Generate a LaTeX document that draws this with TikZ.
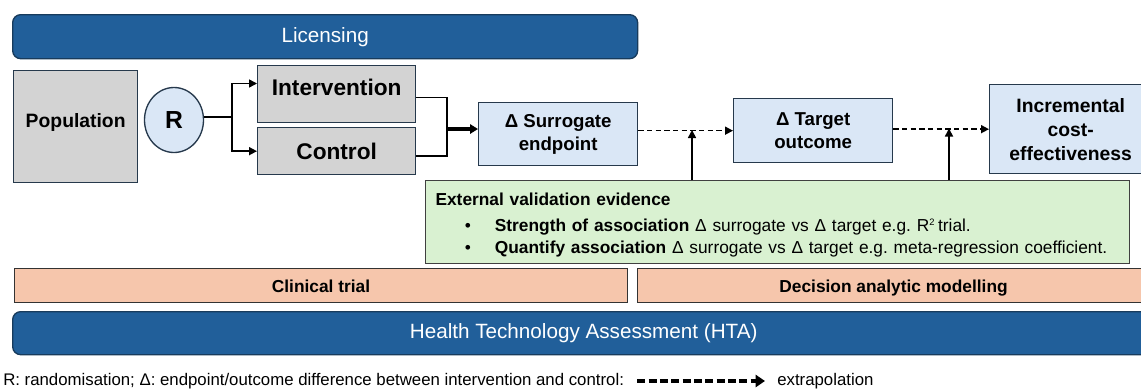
\documentclass[tikz,border=0pt]{standalone}
\usepackage{fontspec}
\setmainfont{Liberation Sans}
\usetikzlibrary{arrows.meta,shapes.geometric}

\definecolor{barblue}{HTML}{215F9A}
\definecolor{barline}{HTML}{183B5C}
\definecolor{boxgrey}{HTML}{D3D3D3}
\definecolor{boxblue}{HTML}{DAE7F6}
\definecolor{boxline}{HTML}{26394C}
\definecolor{evgreen}{HTML}{D9F1D1}
\definecolor{peach}{HTML}{F6C6AC}

\begin{document}
\begin{tikzpicture}[x=0.75pt, y=-0.75pt,
    dims/.style 2 args={minimum width=#1*0.75pt, minimum height=#2*0.75pt},
    bar/.style={draw=barline, fill=barblue, rounded corners=6pt, line width=1pt,
      text=white, inner sep=0pt, anchor=north west, font=\fontsize{15.5}{18}\selectfont},
    greybox/.style={draw=boxline, fill=boxgrey, line width=1pt, inner sep=0pt,
      anchor=north west, font=\bfseries\fontsize{17}{20}\selectfont},
    bluebox/.style={draw=boxline, fill=boxblue, line width=1pt, inner sep=0pt,
      anchor=north west, align=center, font=\bfseries\fontsize{14}{17}\selectfont},
    phase/.style={draw=black!80, fill=peach, line width=0.8pt, inner sep=0pt,
      anchor=north west, text height=11pt, text depth=0pt,
      font=\bfseries\fontsize{13}{15}\selectfont},
    link/.style={line width=1.2pt},
    tip/.style={link, -{Triangle[length=6pt, width=6pt]}},
    extra/.style={link, dash pattern=on 4pt off 2.5pt, -{Triangle[length=6pt, width=6pt]}},
  ]
  \useasboundingbox (0, 0) rectangle (1141, 389);

  \coordinate (L) at (12, 14);
  \coordinate (P) at (13, 70);
  \coordinate (I) at (257, 65);
  \coordinate (C) at (257, 127);
  \coordinate (S) at (478, 102);
  \coordinate (T) at (733, 98);
  \coordinate (E) at (989, 84);
  \coordinate (V) at (425, 180);
  \coordinate (K1) at (14, 268);
  \coordinate (K2) at (637, 268);
  \coordinate (H) at (12, 311);

  \node [bar, dims={625}{44}] (lic) at (L) {Licensing};
  \node [bar, dims={1142}{43}] (hta) at (H) {Health Technology Assessment (HTA)};

  \node [greybox, dims={124}{112}, text depth=9pt, font=\bfseries\fontsize{14.5}{16}\selectfont] (pop) at (P) {Population};
  \node [ellipse, draw=boxline, fill=boxblue, line width=1pt, inner sep=0pt, dims={59}{65},
    font=\bfseries\fontsize{18.5}{20}\selectfont] (r) at (174, 120) {R};
  \node [greybox, dims={158}{57}, text depth=11pt] (int) at (I) {Intervention};
  \node [greybox, dims={158}{47}] (ctl) at (C) {Control};

  \node [bluebox, dims={159}{63}] (sur) at (S) {Δ Surrogate\\endpoint};
  \node [bluebox, dims={159}{64}] (tgt) at (T) {Δ Target\\outcome};
  \node [bluebox, dims={162}{89}, font=\bfseries\fontsize{14.5}{18}\selectfont] (inc) at (E)
    {Incremental\\cost-\\effectiveness};

  \node [draw=black!75, fill=evgreen, line width=0.8pt, anchor=north west, dims={699}{83},
    inner xsep=7.5pt, inner ysep=0pt, text width=513pt, align=left,
    font=\fontsize{13}{16.5}\selectfont] (evid) at (V)
    {\rule{0pt}{14pt}\textbf{External validation evidence}\\[2.5pt]
     \hspace*{22pt}\makebox[22.5pt][l]{•}\textbf{Strength of association} Δ surrogate vs Δ target e.g.\ R\textsuperscript{\scriptsize 2}\,trial.\\
     \hspace*{22pt}\makebox[22.5pt][l]{•}\textbf{Quantify association} Δ surrogate vs Δ target e.g.\ meta-regression coefficient.};

  \node [phase, dims={613}{34}] (trial) at (K1) {Clinical trial};
  \node [phase, dims={512}{34}] (dam) at (K2) {Decision analytic modelling};

  % randomisation into the two arms
  \coordinate (split) at (232, 117);
  \draw [link] (r.east |- split) -- (split);
  \draw [tip] (split) |- ([yshift=8pt]int.west);
  \draw [tip] (split) |- (ctl.west);

  % both arms feed the surrogate difference
  \coordinate (mrg) at (447, 129);
  \draw [link] ([yshift=-2.6pt]int.east) -| (mrg) |- ([yshift=-3.4pt]ctl.east);
  \draw [line width=2.4pt, -{Triangle[length=6pt, width=7pt]}] (mrg) -- (mrg -| sur.west);

  % extrapolation steps
  \draw [extra] (sur.east |- tgt.west) -- (tgt.west);
  \draw [extra] (tgt.east |- inc.west) -- (inc.west);

  \coordinate (e1) at (692, 130);
  \coordinate (e2) at (949, 128.5);
  \draw [tip] (evid.north -| e1) -- (e1);
  \draw [tip] (evid.north -| e2) -- (e2);

  % key
  \node [anchor=west, inner sep=0pt, font=\fontsize{12.6}{14}\selectfont] (key) at (3, 381)
    {R: randomisation; Δ: endpoint/outcome difference between intervention and control:};
  \node [anchor=west, inner sep=0pt, font=\fontsize{12.6}{14}\selectfont] (xtra) at (777, 381) {extrapolation};
  \draw [line width=2.6pt, dash pattern=on 6pt off 2.5pt, -{Triangle[length=7pt, width=9pt]},
    shorten <=13*0.75pt, shorten >=12*0.75pt] (key.east) -- (xtra.west);
\end{tikzpicture}
\end{document}
